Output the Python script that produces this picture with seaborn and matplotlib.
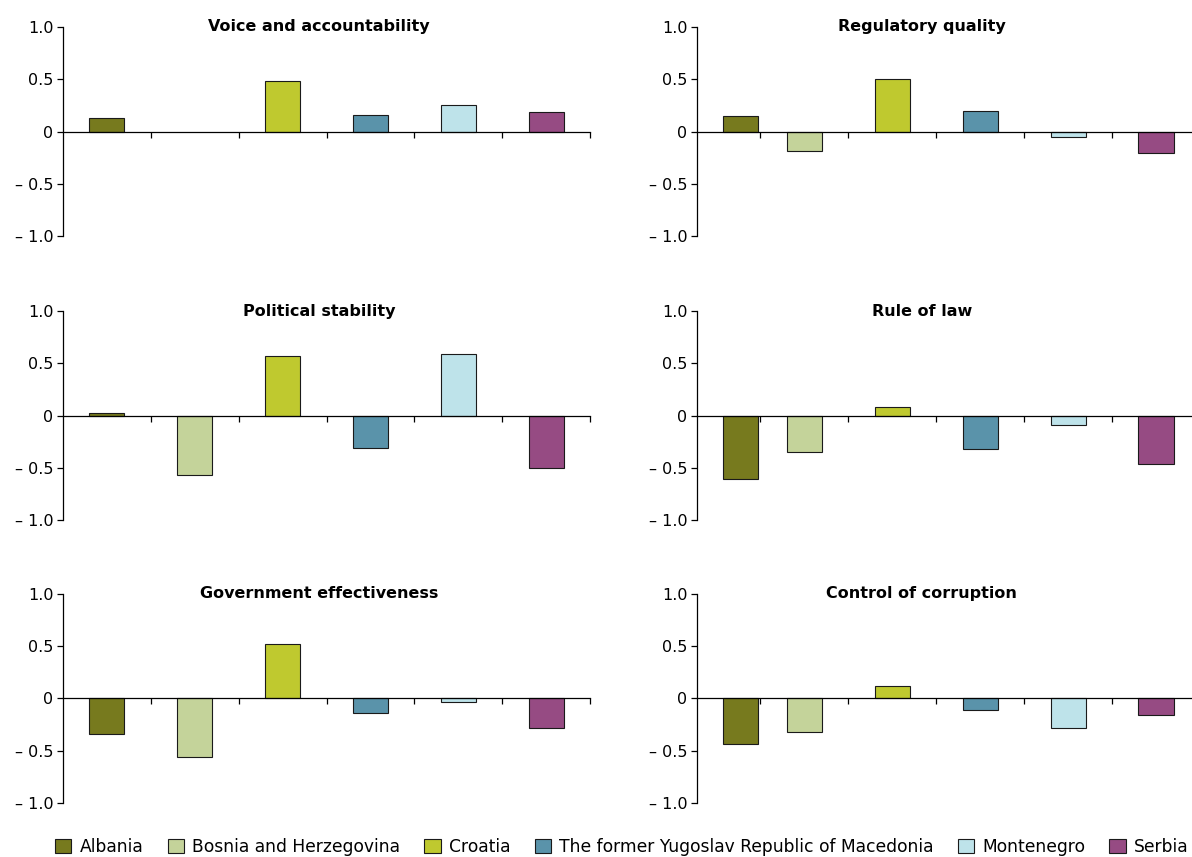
import numpy as np
import pandas as pd
import seaborn as sns
import matplotlib.pyplot as plt
from matplotlib.patches import Patch

countries = ['Albania', 'Bosnia and Herzegovina', 'Croatia',
             'The former Yugoslav Republic of Macedonia', 'Montenegro', 'Serbia']
colors = ['#777A1E', '#C4D39A', '#BFC92F', '#5A93AA', '#BEE3EA', '#964B83']

indicators = ['Voice and accountability', 'Regulatory quality',
              'Political stability', 'Rule of law',
              'Government effectiveness', 'Control of corruption']

voice = [0.13, 0.0, 0.48, 0.16, 0.25, 0.19]
regulatory = [0.15, -0.19, 0.50, 0.20, -0.05, -0.21]
political = [0.02, -0.57, 0.57, -0.31, 0.59, -0.50]
rule_of_law = [-0.61, -0.35, 0.08, -0.32, -0.09, -0.46]
government = [-0.34, -0.56, 0.52, -0.14, -0.03, -0.28]
corruption = [-0.44, -0.32, 0.12, -0.11, -0.28, -0.16]

yticks = [-1.0, -0.5, 0, 0.5, 1.0]
ytick_labels = ['\u2013 1.0', '\u2013 0.5', '0', '0.5', '1.0']


def build_data() -> pd.DataFrame:
    values = [voice, regulatory, political, rule_of_law, government, corruption]
    rows = []
    for name, vals in zip(indicators, values):
        for c, v in zip(countries, vals):
            rows.append({'Indicator': name, 'Country': c, 'Value': v})
    return pd.DataFrame(rows)


def draw_panel(ax, df, title, right_side):
    sns.barplot(data=df, x='Country', y='Value', hue='Country', order=countries,
                hue_order=countries, palette=colors, saturation=1, width=0.4,
                legend=False, edgecolor='#1a1a1a', linewidth=0.8, ax=ax)
    # zero-height bars leave no visible mark in the original
    for p in ax.patches:
        if p.get_height() == 0:
            p.set_linewidth(0)
    ax.set_ylim(-1.0, 1.0)
    ax.set_yticks(yticks)
    ax.set_yticklabels(ytick_labels, fontsize=11.5)
    ax.set_xticks(np.arange(6) + 0.5)
    ax.set_xticklabels([])
    ax.set_xlabel('')
    ax.set_ylabel('')
    for s in ['top', 'right']:
        ax.spines[s].set_visible(False)
    ax.spines['bottom'].set_position(('data', 0))
    for s in ['left', 'bottom']:
        ax.spines[s].set_linewidth(0.9)
        ax.spines[s].set_color('black')
    ax.tick_params(axis='y', direction='out', length=4, width=0.9, pad=3, left=True,
                   colors='black')
    ax.tick_params(axis='x', direction='out', length=4, width=0.9, bottom=True,
                   colors='black')
    if right_side:
        ax.set_xlim(-0.22, 5.5)
        # first bar sits nearer its slot boundary in the right-hand panels
        p = ax.patches[0]
        p.set_x(p.get_x() + 0.27)
        tx = 0.447
    else:
        ax.set_xlim(-0.5, 5.5)
        tx = 0.486
    ax.text(tx, 1.0, title, transform=ax.transAxes, ha='center', va='center',
            fontsize=11.5, fontweight='bold', color='black')


def main():
    sns.set_style('white')
    plt.rcParams['font.family'] = ['DejaVu Sans']
    plt.rcParams['text.color'] = 'black'
    data = build_data()

    fig = plt.figure(figsize=(11.92, 8.57), dpi=100)
    lefts = [63 / 1192, 697 / 1192]
    widths = [527 / 1192, 503 / 1192]
    bottoms = [0.7246, 0.3932, 0.0630]
    height = 0.2439

    for i, name in enumerate(indicators):
        row, col = divmod(i, 2)
        ax = fig.add_axes([lefts[col], bottoms[row], widths[col], height])
        draw_panel(ax, data[data['Indicator'] == name], name, col == 1)

    handles = [Patch(facecolor=c, edgecolor='#1a1a1a', linewidth=0.8) for c in colors]
    fig.legend(handles, countries, loc='center', bbox_to_anchor=(0.5218, 1 - 847 / 857),
               ncol=6, frameon=False, fontsize=12.3, handlelength=0.95, handleheight=0.95,
               handletextpad=0.5, columnspacing=1.4, labelcolor='black')

    fig.savefig('out.png', dpi=100)


if __name__ == "__main__":
    main()
